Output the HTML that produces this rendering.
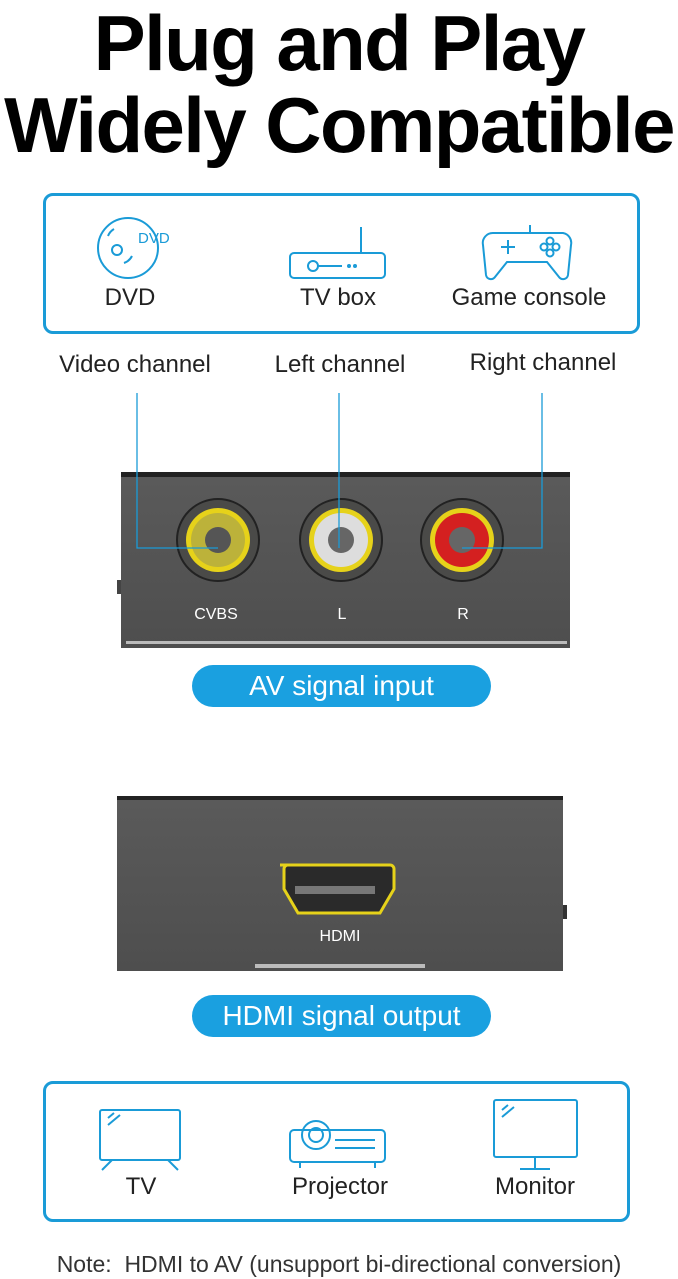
<!DOCTYPE html>
<html><head><meta charset="utf-8"><style>
body{margin:0;width:678px;height:1279px;background:#fff;position:relative;overflow:hidden;font-family:"Liberation Sans",sans-serif;}
.a{position:absolute}
.t{font-weight:bold;font-size:78px;color:#000;width:678px;text-align:center;letter-spacing:-1.6px;line-height:1}
.box{border:3px solid #1a9bd7;border-radius:10px;box-sizing:border-box}
.lbl{font-size:24px;color:#222;text-align:center;white-space:nowrap}
.pill{background:#1aa0e0;color:#fff;border-radius:21px;font-size:28px;text-align:center;line-height:42px}
.dev{background:linear-gradient(#5a5a5a,#4e4e4e);}
</style></head><body>
<div class="a t" style="top:4px">Plug and Play</div>
<div class="a t" style="top:86px">Widely Compatible</div>

<div class="a box" style="left:43px;top:193px;width:597px;height:141px"></div>
<svg class="a" style="left:0;top:0" width="678" height="340" fill="none" stroke="#1a9bd7" stroke-width="2">
<circle cx="128" cy="248" r="30"/><circle cx="117" cy="250" r="5"/>
<path d="M108 236 a14 14 0 0 1 6 -7 M124 263 a14 14 0 0 0 8 -7"/>
<text x="138" y="243" fill="#1a9bd7" stroke="none" font-size="15" font-family="Liberation Sans">DVD</text>
<rect x="290" y="253" width="95" height="25" rx="4"/><line x1="361" y1="227" x2="361" y2="253"/>
<circle cx="313" cy="266" r="5"/><line x1="318" y1="266" x2="342" y2="266"/><circle cx="349" cy="266" r="1"/><circle cx="355" cy="266" r="1"/>
<path d="M493 233 h70 a10 10 0 0 1 8 12 l-3 30 a5 5 0 0 1 -9 2 l-12 -15 h-40 l-12 15 a5 5 0 0 1 -9 -2 l-3 -30 a10 10 0 0 1 10 -12z"/>
<line x1="530" y1="225" x2="530" y2="233"/><path d="M501 247 h14 M508 240 v14"/>
<circle cx="550" cy="241" r="3.5"/><circle cx="550" cy="253" r="3.5"/><circle cx="544" cy="247" r="3.5"/><circle cx="556" cy="247" r="3.5"/>
</svg>
<div class="a lbl" style="left:70px;top:284px;width:120px">DVD</div>
<div class="a lbl" style="left:268px;top:284px;width:140px">TV box</div>
<div class="a lbl" style="left:429px;top:284px;width:200px">Game console</div>

<div class="a lbl" style="left:25px;top:351px;width:220px">Video channel</div>
<div class="a lbl" style="left:230px;top:351px;width:220px">Left channel</div>
<div class="a lbl" style="left:433px;top:349px;width:220px">Right channel</div>

<div class="a dev" style="left:121px;top:472px;width:449px;height:176px;border-top:5px solid #222;box-sizing:border-box"></div>
<div class="a" style="left:117px;top:580px;width:4px;height:14px;background:#444"></div>
<div class="a" style="left:126px;top:641px;width:441px;height:3px;background:#bbb"></div>
<svg class="a" style="left:0;top:460px" width="678" height="200">
<g><circle cx="218" cy="80" r="41" fill="#4a4a48" stroke="#222" stroke-width="2"/><circle cx="218" cy="80" r="32" fill="#e6d21a"/><circle cx="218" cy="80" r="27" fill="#bcb23a"/><circle cx="218" cy="80" r="13" fill="#555"/></g>
<g><circle cx="341" cy="80" r="41" fill="#4a4a48" stroke="#222" stroke-width="2"/><circle cx="341" cy="80" r="32" fill="#e6d21a"/><circle cx="341" cy="80" r="27" fill="#ddd"/><circle cx="341" cy="80" r="13" fill="#666"/></g>
<g><circle cx="462" cy="80" r="41" fill="#4a4a48" stroke="#222" stroke-width="2"/><circle cx="462" cy="80" r="32" fill="#e6d21a"/><circle cx="462" cy="80" r="27" fill="#d42020"/><circle cx="462" cy="80" r="13" fill="#666"/></g>
<g fill="#fff" font-family="Liberation Sans" font-size="16" text-anchor="middle"><text x="216" y="159">CVBS</text><text x="342" y="159">L</text><text x="463" y="159">R</text></g>
</svg>
<svg class="a" style="left:0;top:0" width="678" height="600" fill="none" stroke="#1a9bd7" stroke-width="1.3">
<path d="M137 393 V548 H218"/><path d="M339 393 V548"/><path d="M542 393 V548 H462"/>
</svg>
<div class="a pill" style="left:192px;top:665px;width:299px;height:42px">AV signal input</div>

<div class="a dev" style="left:117px;top:796px;width:446px;height:175px;border-top:4px solid #222;box-sizing:border-box"></div>
<div class="a" style="left:563px;top:905px;width:4px;height:14px;background:#333"></div>
<div class="a" style="left:255px;top:964px;width:170px;height:4px;background:#bbb"></div>
<svg class="a" style="left:270px;top:860px" width="140" height="60">
<path d="M10 5 h110 a4 4 0 0 1 4 4 v20 l-14 24 h-82 l-14 -24 v-20 a4 4 0 0 1 4 -4z" fill="#2a2a2a" stroke="#e6d21a" stroke-width="3"/>
<rect x="25" y="26" width="80" height="8" fill="#777"/>
</svg>
<div class="a" style="left:300px;top:928px;width:80px;text-align:center;color:#fff;font-size:16px">HDMI</div>
<div class="a pill" style="left:192px;top:995px;width:299px;height:42px">HDMI signal output</div>

<div class="a box" style="left:43px;top:1081px;width:587px;height:141px"></div>
<svg class="a" style="left:0;top:1080px" width="678" height="100" fill="none" stroke="#1a9bd7" stroke-width="2">
<rect x="100" y="30" width="80" height="50" rx="2"/><path d="M108 38 l6 -5 M108 45 l12 -10 M112 80 l-10 10 M168 80 l10 10"/>
<rect x="290" y="50" width="95" height="32" rx="4"/><circle cx="316" cy="55" r="14"/><circle cx="316" cy="55" r="7"/><path d="M335 60 h40 M335 68 h40 M300 82 v6 M375 82 v6"/>
<rect x="494" y="20" width="83" height="57" rx="2"/><path d="M502 30 l6 -5 M502 37 l12 -10 M535 77 v12 M520 89 h30"/>
</svg>
<div class="a lbl" style="left:100px;top:1173px;width:82px">TV</div>
<div class="a lbl" style="left:270px;top:1173px;width:140px">Projector</div>
<div class="a lbl" style="left:470px;top:1173px;width:130px">Monitor</div>

<div class="a" style="left:0;top:1251px;width:678px;text-align:center;font-size:23px;color:#333;white-space:nowrap">Note:&nbsp; HDMI to AV (unsupport bi-directional conversion)</div>
</body></html>
